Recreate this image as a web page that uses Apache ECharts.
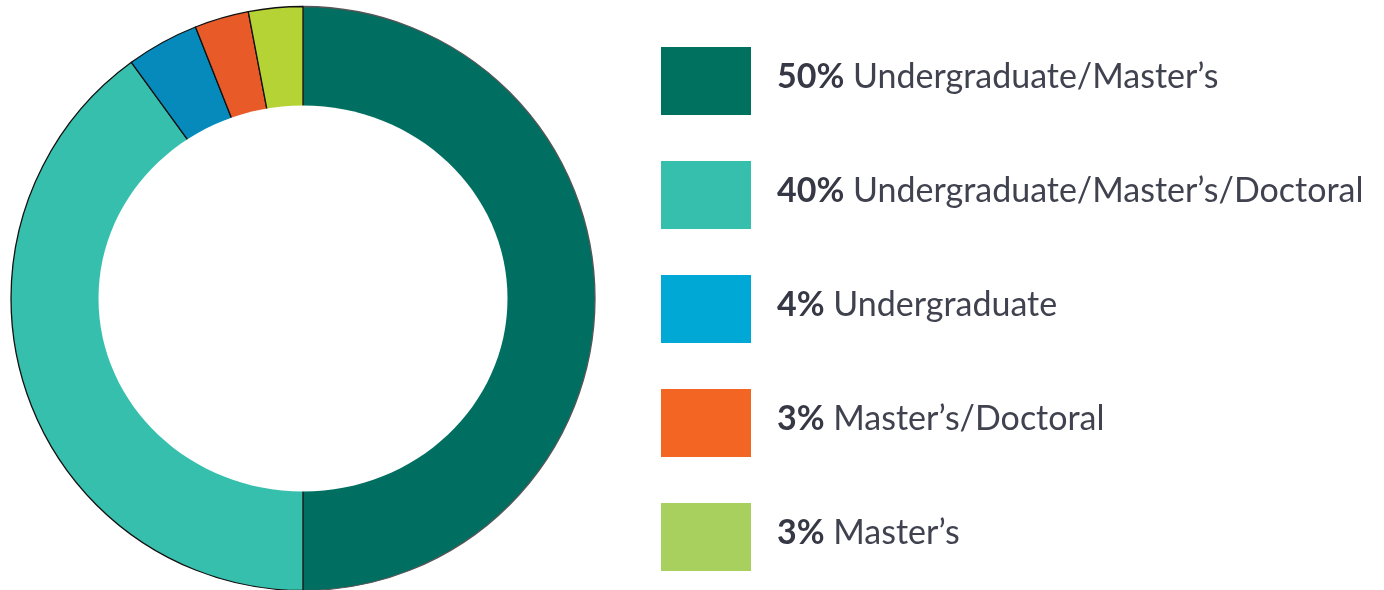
<!DOCTYPE html>
<html>
<head>
<meta charset="utf-8">
<script src="https://cdn.jsdelivr.net/npm/echarts@6/dist/echarts.min.js"></script>
<style>
  html, body { margin: 0; padding: 0; background: #ffffff; }
  #chart { width: 1384px; height: 590px; }
</style>
</head>
<body>
<div id="chart"></div>
<script>
// Degree programs offered, share of institutions
const categories = [
  'Undergraduate/Master’s',
  'Undergraduate/Master’s/Doctoral',
  'Undergraduate',
  'Master’s/Doctoral',
  'Master’s'
];
const shares = [50, 40, 4, 3, 3];
const sliceColors = ['#006F62', '#36BFAD', '#058ABB', '#E85A27', '#B5D334'];
const legendColors = ['#00715F', '#36BFAD', '#00A8D5', '#F26522', '#A8D05F'];

const CX = 303, CY = 298.5, R_OUT = 292;
// the hole is slightly wider than it is tall
const HOLE_RX = 204.5, HOLE_RY = 193;

const chart = echarts.init(document.getElementById('chart'), null, { renderer: 'canvas' });

chart.setOption({
  animation: false,
  backgroundColor: '#ffffff',
  legend: {
    orient: 'vertical',
    left: 661,
    top: 47,
    padding: 0,
    itemWidth: 90,
    itemHeight: 68,
    itemGap: 46,
    icon: 'rect',
    selectedMode: false,
    data: categories.map((name, i) => ({
      name: name,
      itemStyle: { color: legendColors[i], borderWidth: 0 }
    })),
    formatter: function (name) {
      const i = categories.indexOf(name);
      return '{s|}{p|' + shares[i] + '%}{t| ' + name + '}';
    },
    textStyle: {
      padding: [0, 0, 7, 0],
      rich: {
        s: { width: 21 },
        p: { fontFamily: 'Lato', fontWeight: 'bold', fontSize: 34, color: '#363945' },
        t: { fontFamily: 'Lato', fontWeight: 'normal', fontSize: 34, color: '#40434f' }
      }
    }
  },
  series: [{
    type: 'pie',
    center: [CX, CY],
    radius: [180, R_OUT],
    startAngle: 90,
    clockwise: true,
    silent: true,
    label: { show: false },
    labelLine: { show: false },
    emphasis: { disabled: true },
    itemStyle: { borderColor: '#111111', borderWidth: 1.3 },
    data: categories.map((name, i) => ({
      name: name,
      value: shares[i],
      itemStyle: {
        color: sliceColors[i],
        borderColor: i === 0 ? '#555555' : '#111111'
      }
    }))
  }],
  graphic: [{
    // white hole of the ring, no stroke on the inner edge
    type: 'ellipse',
    z: 100,
    silent: true,
    shape: { cx: CX, cy: CY, rx: HOLE_RX, ry: HOLE_RY },
    style: { fill: '#ffffff' }
  }]
});
</script>
</body>
</html>
